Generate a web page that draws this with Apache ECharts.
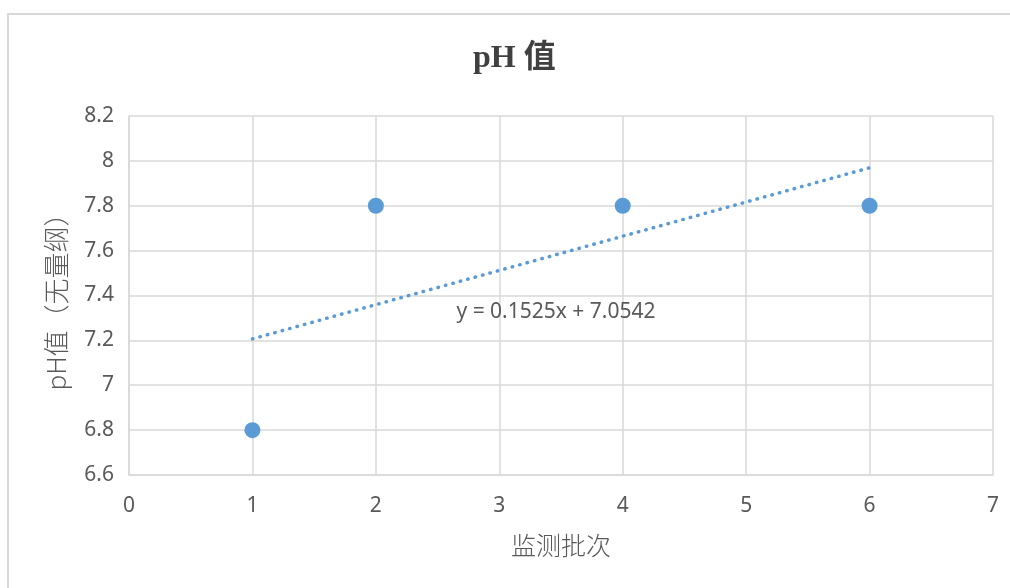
<!DOCTYPE html>
<html>
<head>
<meta charset="utf-8">
<script src="https://cdn.jsdelivr.net/npm/echarts@6/dist/echarts.min.js"></script>
<style>
  html, body { margin: 0; padding: 0; background: #fff; }
  #chart { width: 1010px; height: 588px; }
</style>
</head>
<body>
<div id="chart"></div>
<script>
// Monitoring batches and measured pH
const batches = [1, 2, 4, 6];
const phValues = [6.8, 7.8, 7.8, 7.8];

// Linear trendline: y = slope * x + intercept, spanning the measured batches
const trendSlope = 0.1525;
const trendIntercept = 7.0542;
const trendRange = [1, 6];

// Axis ranges
const xRange = [0, 7, 1];
const yRange = [6.6, 8.2, 0.2];

const blue = '#5b9bd5';
const gridColor = '#d9d9d9';
const textColor = '#595959';
const font = '"Noto Sans", "Noto Sans CJK SC", sans-serif';

const points = batches.map((b, i) => [b, phValues[i]]);
const trendPoints = trendRange.map(x => [x, trendSlope * x + trendIntercept]);
const trendText = 'y = ' + trendSlope + 'x + ' + trendIntercept;

const chart = echarts.init(document.getElementById('chart'), null, { renderer: 'canvas' });
chart.setOption({
  animation: false,
  backgroundColor: '#fff',
  title: {
    text: 'pH 值',
    left: 468,
    top: 38,
    textStyle: {
      fontFamily: '"Liberation Serif", "Noto Sans CJK SC", serif',
      fontWeight: 'bold',
      fontSize: 32,
      color: '#404040'
    }
  },
  grid: { left: 129, top: 116, width: 864, height: 359, containLabel: false },
  xAxis: {
    type: 'value',
    min: xRange[0], max: xRange[1], interval: xRange[2],
    name: '监测批次',
    nameLocation: 'middle',
    nameGap: 58,
    nameTextStyle: { fontFamily: '"Noto Sans CJK SC", sans-serif', fontSize: 25, color: textColor, fontWeight: 300 },
    axisLine: { show: true, lineStyle: { color: gridColor, width: 1.5 } },
    axisTick: { show: false },
    axisLabel: { fontFamily: font, fontSize: 21, color: textColor, margin: 21 },
    splitLine: { show: true, lineStyle: { color: gridColor, width: 1.5 } }
  },
  yAxis: {
    type: 'value',
    min: yRange[0], max: yRange[1], interval: yRange[2],
    name: 'pH值（无量纲）',
    nameLocation: 'middle',
    nameGap: 60,
    nameRotate: 90,
    nameTextStyle: { fontFamily: '"Noto Sans CJK SC", sans-serif', fontSize: 26, color: textColor, fontWeight: 300 },
    axisLine: { show: true, lineStyle: { color: gridColor, width: 1.5 } },
    axisTick: { show: false },
    axisLabel: {
      fontFamily: font, fontSize: 21, color: textColor, margin: 15,
      formatter: v => String(parseFloat(v.toFixed(1)))
    },
    splitLine: { show: true, lineStyle: { color: gridColor, width: 1.5 } }
  },
  series: [
    {
      type: 'line',
      data: trendPoints,
      symbol: 'none',
      silent: true,
      lineStyle: { color: blue, width: 3.5, type: [0.5, 7.2], cap: 'round' },
      z: 2
    },
    {
      type: 'scatter',
      data: points,
      symbol: 'circle',
      symbolSize: 16,
      itemStyle: { color: blue, opacity: 1 },
      z: 3
    }
  ],
  graphic: [
    {
      type: 'rect',
      shape: { x: 8, y: 14, width: 1010, height: 600 },
      style: { fill: 'none', stroke: gridColor, lineWidth: 2 },
      silent: true
    },
    {
      type: 'text',
      x: 556, y: 312,
      style: {
        text: trendText,
        fontFamily: font,
        fontSize: 21,
        fill: textColor,
        align: 'center',
        verticalAlign: 'middle'
      },
      z: 10
    }
  ]
});
</script>
</body>
</html>
